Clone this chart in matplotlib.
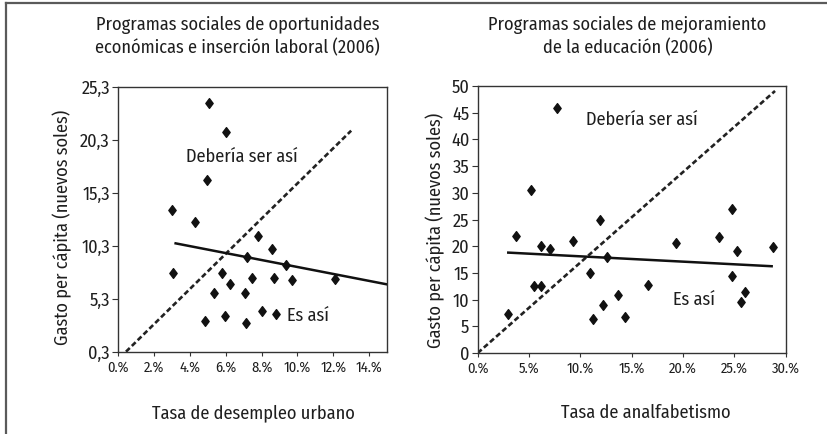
import matplotlib
matplotlib.use("Agg")
import matplotlib.pyplot as plt
from matplotlib.path import Path
from matplotlib.lines import Line2D

plt.rcParams['font.family'] = ['Fira Sans Condensed', 'DejaVu Sans']
plt.rcParams['font.weight'] = 'normal'

# ---------------- data ----------------
# Left: Programas sociales de oportunidades económicas e inserción laboral (2006)
left_x = [5.04, 6.04, 4.94, 3.00, 4.26, 7.78, 8.60, 7.20, 9.37, 3.06, 5.78, 7.44,
          8.70, 9.67, 12.11, 6.22, 5.32, 7.06, 4.82, 5.93, 7.11, 8.00, 8.83]
left_y = [23.76, 21.03, 16.50, 13.70, 12.56, 11.24, 10.00, 9.24, 8.48, 7.72, 7.72, 7.31,
          7.31, 7.06, 7.16, 6.71, 5.87, 5.87, 3.22, 3.70, 3.01, 4.17, 3.89]
left_trend_x = [3.2, 15.0]
left_trend_y = [10.55, 6.68]
left_ideal_x = [0.43, 13.0]
left_ideal_y = [0.33, 21.18]
left_xticks = [0, 2, 4, 6, 8, 10, 12, 14]
left_xticklabels = ["0.%", "2.%", "4.%", "6.%", "8.%", "10.%", "12.%", "14.%"]
left_yticks = [0.3, 5.3, 10.3, 15.3, 20.3, 25.3]
left_yticklabels = ["0,3", "5,3", "10,3", "15,3", "20,3", "25,3"]

# Right: Programas sociales de mejoramiento de la educación (2006)
right_x = [2.92, 3.70, 5.20, 5.52, 6.17, 6.17, 7.00, 7.70, 9.26, 10.95, 11.20, 11.95,
           12.25, 12.57, 13.67, 14.36, 16.63, 19.30, 23.55, 24.79, 24.80, 25.30, 25.63,
           26.02, 28.80]
right_y = [7.3, 21.9, 30.5, 12.5, 12.5, 20.06, 19.5, 45.9, 21.0, 14.9, 6.35, 24.97,
           8.97, 18.0, 10.78, 6.67, 12.77, 20.55, 21.8, 26.9, 14.45, 19.18, 9.53,
           11.4, 19.93]
right_trend_x = [2.98, 28.65]
right_trend_y = [18.8, 16.25]
right_ideal_x = [0.0, 28.98]
right_ideal_y = [0.0, 49.07]
right_xticks = [0, 5, 10, 15, 20, 25, 30]
right_xticklabels = ["0.%", "5.%", "10.%", "15.%", "20.%", "25.%", "30.%"]
right_yticks = [0, 5, 10, 15, 20, 25, 30, 35, 40, 45, 50]
right_yticklabels = [str(v) for v in right_yticks]

# ---------------- figure ----------------
W, H = 827, 434
fig = plt.figure(figsize=(W / 100, H / 100), dpi=100)
fig.patch.set_facecolor("white")

# outer frame (top and left)
frame_col = "#5a5a5a"
fig.add_artist(Line2D([5.5 / W, 1.0], [1 - 3 / H, 1 - 3 / H], transform=fig.transFigure,
                      color=frame_col, lw=1.6))
fig.add_artist(Line2D([5.5 / W, 5.5 / W], [0, 1 - 3 / H], transform=fig.transFigure,
                      color=frame_col, lw=1.6))

diamond = Path([(0, 1), (0.75, 0), (0, -1), (-0.75, 0), (0, 1)],
               [Path.MOVETO, Path.LINETO, Path.LINETO, Path.LINETO, Path.CLOSEPOLY])

txt_col = "#1e1e1e"
FS = 13.2


def style_axes(ax):
    for s in ax.spines.values():
        s.set_color("#333333")
        s.set_linewidth(1.0)
    ax.tick_params(axis='y', direction='out', length=4, width=0.8, color="#333333",
                   labelsize=FS, labelcolor=txt_col, pad=2)
    ax.tick_params(axis='x', direction='out', length=3, width=0.8, color="#333333",
                   labelsize=10.5, labelcolor=txt_col, pad=3)


ax1 = fig.add_axes([118.3 / W, (H - 352) / H, (387 - 118.3) / W, (352 - 87) / H])
ax1.plot(left_ideal_x, left_ideal_y, color="#222222", lw=1.9, ls=(0, (2.0, 1.1)))
ax1.plot(left_trend_x, left_trend_y, color="#111111", lw=1.8)
ax1.plot(left_x, left_y, ls="none", marker=diamond, ms=7.0, color="#111111")
ax1.set_xlim(0, 15)
ax1.set_ylim(0.3, 25.3)
ax1.set_xticks(left_xticks)
ax1.set_xticklabels(left_xticklabels)
ax1.set_yticks(left_yticks)
ax1.set_yticklabels(left_yticklabels)
style_axes(ax1)
ax1.text(3.8, 18.7, "Debería ser así", fontsize=FS, color=txt_col, va="center", ha="left")
ax1.text(9.44, 3.7, "Es así", fontsize=FS, color=txt_col, va="center", ha="left")

ax2 = fig.add_axes([477.7 / W, (H - 353) / H, (785.5 - 477.7) / W, (353 - 86) / H])
ax2.plot(right_ideal_x, right_ideal_y, color="#222222", lw=1.9, ls=(0, (2.0, 1.1)))
ax2.plot(right_trend_x, right_trend_y, color="#111111", lw=1.8)
ax2.plot(right_x, right_y, ls="none", marker=diamond, ms=7.0, color="#111111")
ax2.set_xlim(0, 30)
ax2.set_ylim(0, 50)
ax2.set_xticks(right_xticks)
ax2.set_xticklabels(right_xticklabels)
ax2.set_yticks(right_yticks)
ax2.set_yticklabels(right_yticklabels)
style_axes(ax2)
ax2.text(10.6, 43.6, "Debería ser así", fontsize=FS, color=txt_col, va="center", ha="left")
ax2.text(19.05, 10.05, "Es así", fontsize=FS, color=txt_col, va="center", ha="left")

# titles
fig.text(237.5 / W, 1 - 36.5 / H,
         "Programas sociales de oportunidades\neconómicas e inserción laboral (2006)",
         ha="center", va="center", fontsize=FS, color=txt_col, linespacing=1.3)
fig.text(627.5 / W, 1 - 36.5 / H,
         "Programas sociales de mejoramiento\nde la educación (2006)",
         ha="center", va="center", fontsize=FS, color=txt_col, linespacing=1.3)

# y labels
fig.text(62 / W, 1 - 227 / H, "Gasto per cápita (nuevos soles)", rotation=90,
         ha="center", va="center", fontsize=FS, color=txt_col)
fig.text(435 / W, 1 - 230 / H, "Gasto per cápita (nuevos soles)", rotation=90,
         ha="center", va="center", fontsize=FS, color=txt_col)

# x labels
fig.text(253 / W, 1 - 413 / H, "Tasa de desempleo urbano",
         ha="center", va="center", fontsize=FS, color=txt_col)
fig.text(646 / W, 1 - 413 / H, "Tasa de analfabetismo",
         ha="center", va="center", fontsize=FS, color=txt_col)

fig.savefig("out.png", dpi=100, facecolor="white")
